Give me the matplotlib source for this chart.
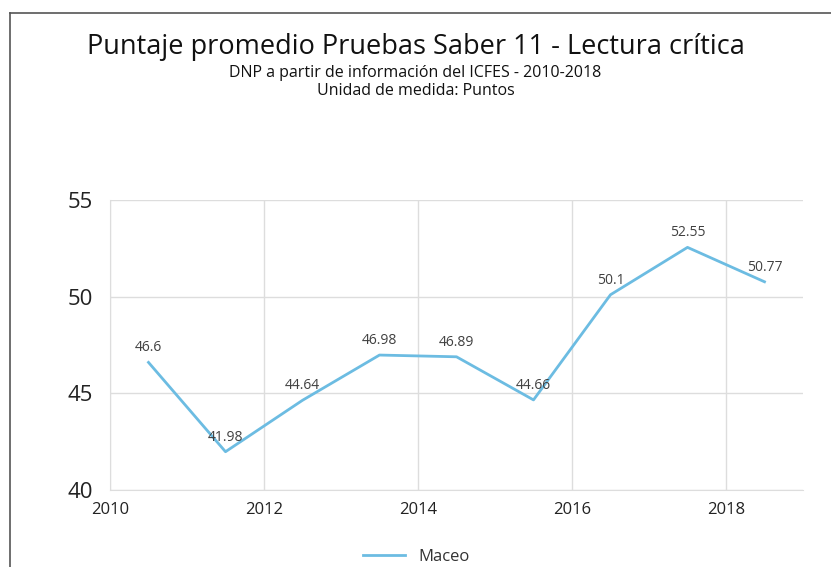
import matplotlib.pyplot as plt
from matplotlib.lines import Line2D

years = [2010.5, 2011.5, 2012.5, 2013.5, 2014.5, 2015.5, 2016.5, 2017.5, 2018.5]
values = [46.6, 41.98, 44.64, 46.98, 46.89, 44.66, 50.1, 52.55, 50.77]
labels = ["46.6", "41.98", "44.64", "46.98", "46.89", "44.66", "50.1", "52.55", "50.77"]
xticks = [2010, 2012, 2014, 2016, 2018]
yticks = [40, 45, 50, 55]

plt.rcParams['font.family'] = ['Open Sans', 'DejaVu Sans']

fig = plt.figure(figsize=(8.31, 5.67), dpi=100)
ax = fig.add_axes([110/831, 1-490/567, 693/831, 290/567])

color = '#6cbce2'
ax.plot(years, values, color=color, linewidth=2, label='Maceo')
for x, y, t in zip(years, values, labels):
    ax.annotate(t, (x, y), xytext=(0, 5), textcoords='offset points',
                ha='center', va='bottom', fontsize=10, color='#404040')

ax.set_xlim(2010, 2019)
ax.set_ylim(40, 55)
ax.set_xticks(xticks)
ax.set_yticks(yticks)
ax.tick_params(axis='x', labelsize=12, length=0, pad=9, colors='#222222')
ax.tick_params(axis='y', labelsize=16, length=0, pad=12, colors='#222222')
ax.grid(True, color='#dddddd', linewidth=1)
ax.set_axisbelow(True)
for s in ['top', 'right']:
    ax.spines[s].set_visible(False)
for s in ['left', 'bottom']:
    ax.spines[s].set_color('#dddddd')

fig.text(0.5, 1-47/567, 'Puntaje promedio Pruebas Saber 11 - Lectura crítica',
         ha='center', va='center', fontsize=19.5, color='#111111')
fig.text(0.5, 1-73/567, 'DNP a partir de información del ICFES - 2010-2018',
         ha='center', va='center', fontsize=11.5, color='#111111')
fig.text(0.5, 1-91/567, 'Unidad de medida: Puntos',
         ha='center', va='center', fontsize=11.5, color='#111111')

fig.legend(loc='center', bbox_to_anchor=(416/831, 1-557/567), frameon=False,
           fontsize=12, handlelength=2.5, labelcolor='#333333')

# frame of the screenshot
fig.add_artist(Line2D([10/831, 1], [1-13/567, 1-13/567], color='#555555', linewidth=1.2))
fig.add_artist(Line2D([10/831, 10/831], [0, 1-13/567], color='#555555', linewidth=1.2))

fig.savefig('out.png', dpi=100)
